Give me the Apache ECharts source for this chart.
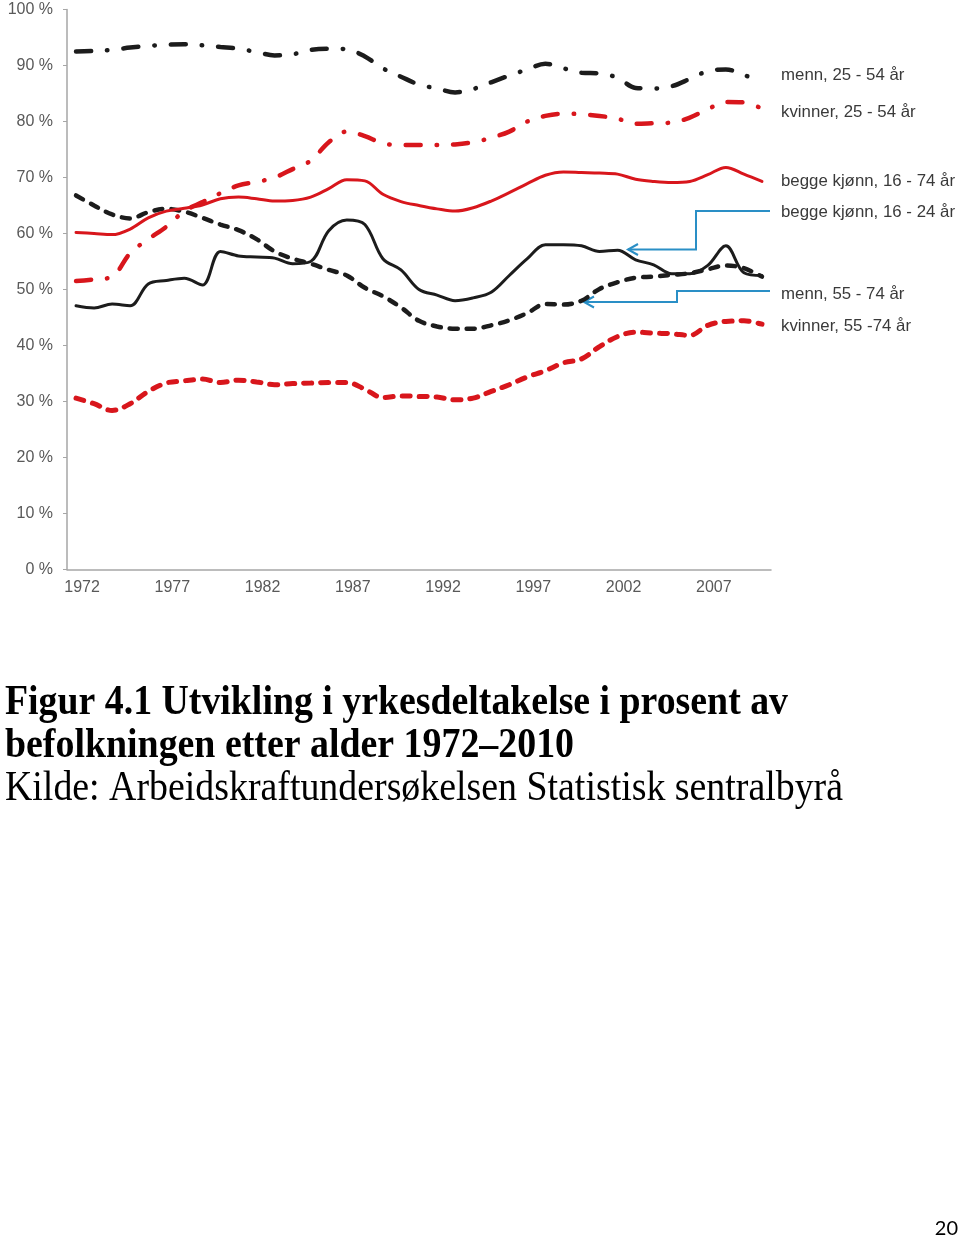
<!DOCTYPE html>
<html>
<head>
<meta charset="utf-8">
<script src="https://cdn.jsdelivr.net/npm/echarts@6/dist/echarts.min.js"></script>
<style>
html,body{margin:0;padding:0;background:#fff;}
#chart{width:960px;height:1239px;}
</style>
</head>
<body>
<div id="chart"></div>
<script>
const years = ['1972','1973','1974','1975','1976','1977','1978','1979','1980','1981','1982','1983','1984','1985','1986','1987','1988','1989','1990','1991','1992','1993','1994','1995','1996','1997','1998','1999','2000','2001','2002','2003','2004','2005','2006','2007','2008','2009','2010'];

const menn2554 = [92.5,92.6,92.8,93.2,93.5,93.7,93.8,93.6,93.3,93.0,92.4,91.8,92.0,92.8,93.0,92.9,91.6,89.5,88.0,86.6,85.9,85.2,85.8,87.0,88.2,89.3,90.3,89.5,88.7,88.6,87.8,86.0,85.9,86.3,87.6,89.0,89.3,88.3,87.1];
const kvinner2554 = [51.5,51.8,52.3,56.5,59.0,61.2,64.0,65.6,67.2,68.6,69.2,70.0,71.5,73.0,76.3,78.2,77.4,76.1,75.8,75.8,75.8,75.9,76.3,77.1,78.2,80.0,81.0,81.4,81.3,81.0,80.5,79.6,79.7,79.8,80.7,82.2,83.5,83.4,82.3];
const begge1674 = [60.2,60.0,59.8,60.8,62.8,64.0,64.5,65.1,66.2,66.5,66.2,65.8,65.9,66.5,68.0,69.6,69.4,67.0,65.7,65.0,64.4,64.0,64.6,65.8,67.3,68.9,70.4,71.0,70.9,70.8,70.6,69.7,69.3,69.1,69.3,70.5,71.8,70.6,69.3];
const begge1624 = [47.1,46.7,47.4,47.1,51.0,51.6,52.0,50.8,56.8,56.0,55.8,55.6,54.6,55.0,60.5,62.4,61.6,55.5,53.5,50.0,49.0,48.0,48.5,49.5,52.5,55.5,58.0,58.0,57.8,56.8,57.0,55.3,54.4,52.8,52.8,54.3,57.8,53.0,52.5];
const menn5574 = [66.8,65.0,63.4,62.7,63.8,64.4,63.9,62.8,61.6,60.6,59.0,56.8,55.5,54.6,53.5,52.5,50.3,48.8,46.8,44.4,43.4,43.0,43.0,43.6,44.5,45.8,47.4,47.3,48.0,50.1,51.3,52.1,52.3,52.6,52.9,53.6,54.3,53.8,52.3];
const kvinner5574 = [30.6,29.6,28.4,29.6,31.8,33.3,33.7,34.0,33.4,33.8,33.5,33.0,33.2,33.3,33.4,33.4,32.2,30.7,31.0,30.9,30.8,30.3,30.6,31.8,33.0,34.4,35.5,36.9,37.6,39.8,41.6,42.4,42.2,42.1,41.8,43.6,44.3,44.4,43.8];

const seriesLabels = ['menn, 25 - 54 år','kvinner, 25 - 54 år','begge kjønn, 16 - 74 år','begge kjønn, 16 - 24 år','menn, 55 - 74 år','kvinner, 55 -74 år'];
const titleLines = ['Figur 4.1 Utvikling i yrkesdeltakelse i prosent av','befolkningen etter alder 1972–2010'];
const sourceLine = 'Kilde: Arbeidskraftundersøkelsen Statistisk sentralbyrå';
const pageNumber = '20';

const BLACK = '#1c1c1c', RED = '#d8161c', BLUE = '#2a8fc6';

function measure(text, font){
  const c = document.createElement('canvas').getContext('2d');
  c.font = font; return c.measureText(text).width;
}
const tFont = 'bold 43px "Liberation Serif"';
const sFont = '42px "Liberation Serif"';
const lFont = '16.5px "Liberation Sans"';
const sx1 = 783 / measure(titleLines[0], tFont);
const sx2 = 569 / measure(titleLines[1], tFont);
const sx3 = 838 / measure(sourceLine, sFont);
const lsx = 174 / measure(seriesLabels[2], lFont);

function line(name, data, color, width, type, cap){
  return {name, type:'line', data, symbol:'none', smooth:0.35, silent:true,
    lineStyle:{color, width, type, cap: cap||'round'}, emphasis:{disabled:true}};
}

const chart = echarts.init(document.getElementById('chart'), null, {renderer:'canvas'});
const legendText = (t, y) => ({type:'text', x:781, y, scaleX:lsx, style:{text:t, font:lFont, fill:'#3a3a3a', verticalAlign:'middle'}});

chart.setOption({
  animation:false,
  grid:{left:67, top:9.5, width:704, height:560, containLabel:false},
  xAxis:{type:'category', data:years, boundaryGap:true,
    axisLine:{lineStyle:{color:'#a6a6a6', width:1.5}},
    axisTick:{interval:0, length:5, lineStyle:{color:'#a6a6a6'}},
    axisLabel:{interval:4, color:'#595959', fontSize:16, fontFamily:'"Liberation Sans", Arial', margin:10, padding:[0,0,0,12]}},
  yAxis:{type:'value', min:0, max:100, interval:10,
    axisLine:{show:true, lineStyle:{color:'#a6a6a6', width:1.5}},
    axisTick:{show:true, length:4, lineStyle:{color:'#a6a6a6'}},
    splitLine:{show:false},
    axisLabel:{formatter:'{value} %', color:'#595959', fontSize:16, fontFamily:'"Liberation Sans", Arial', margin:14}},
  series:[
    line(seriesLabels[5], kvinner5574, RED, 5, [8,9]),
    line(seriesLabels[4], menn5574, BLACK, 4.5, [8,9]),
    line(seriesLabels[1], kvinner2554, RED, 4.5, [15,16,0.5,16]),
    line(seriesLabels[0], menn2554, BLACK, 4.5, [15,16,0.5,16]),
    line(seriesLabels[2], begge1674, RED, 3, 'solid'),
    line(seriesLabels[3], begge1624, BLACK, 3, 'solid')
  ],
  graphic:[
    legendText(seriesLabels[0], 75),
    legendText(seriesLabels[1], 112),
    legendText(seriesLabels[2], 181),
    legendText(seriesLabels[3], 212),
    legendText(seriesLabels[4], 294),
    legendText(seriesLabels[5], 326),
    {type:'polyline', shape:{points:[[770,211],[696,211],[696,249.5],[628,249.5]]}, style:{stroke:BLUE, lineWidth:2, fill:null}},
    {type:'polyline', shape:{points:[[638,244],[628,249.5],[638,255]]}, style:{stroke:BLUE, lineWidth:2, fill:null}},
    {type:'polyline', shape:{points:[[770,291],[677,291],[677,302],[584,302]]}, style:{stroke:BLUE, lineWidth:2, fill:null}},
    {type:'polyline', shape:{points:[[594,296.5],[584,302],[594,307.5]]}, style:{stroke:BLUE, lineWidth:2, fill:null}},
    {type:'text', x:5, y:703, scaleX:sx1, style:{text:titleLines[0], font:tFont, fill:'#000', verticalAlign:'middle'}},
    {type:'text', x:5, y:746, scaleX:sx2, style:{text:titleLines[1], font:tFont, fill:'#000', verticalAlign:'middle'}},
    {type:'text', x:5, y:789, scaleX:sx3, style:{text:sourceLine, font:sFont, fill:'#000', verticalAlign:'middle'}},
    {type:'text', x:958, y:1229, style:{text:pageNumber, fontSize:20, fontFamily:'Lato, "Open Sans", sans-serif', fill:'#000', align:'right', verticalAlign:'middle'}}
  ]
});
</script>
</body>
</html>
